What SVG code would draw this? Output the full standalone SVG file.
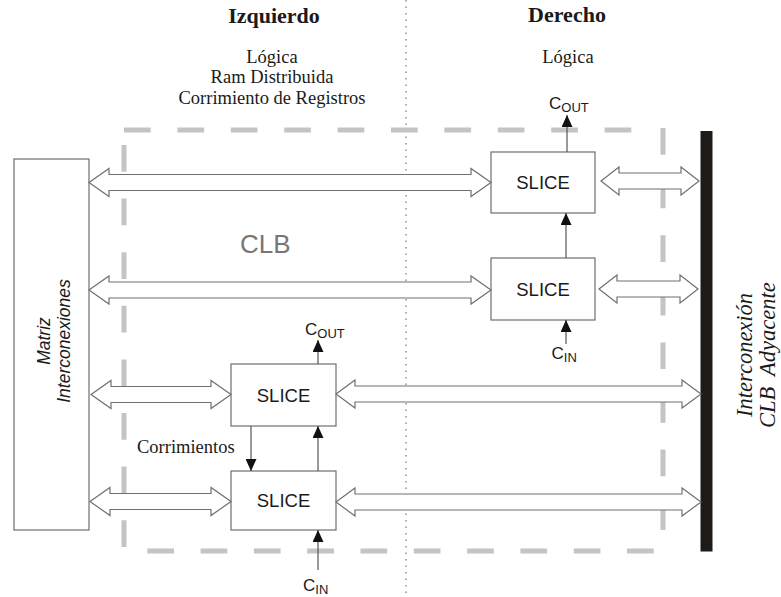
<svg xmlns="http://www.w3.org/2000/svg" width="781" height="597" viewBox="0 0 781 597">
  <style>
    .serif { font-family: "Liberation Serif", "Times New Roman", serif; fill: #1a1a1a; }
    .title { font-size: 22px; font-weight: bold; text-anchor: middle; }
    .note { font-size: 18.5px; }
    .sans { font-family: "Liberation Sans", Arial, sans-serif; fill: #1a1a1a; }
    .slice-box { fill: #ffffff; stroke: #6e6e6e; stroke-width: 1.2; }
    .slice-label { font-size: 18.5px; text-anchor: middle; }
    .bus { fill: #ffffff; stroke: #707070; stroke-width: 1.2; stroke-linejoin: miter; }
    .carry { stroke: #555555; stroke-width: 1.2; fill: none; marker-end: url(#head); }
    .clb-edge { stroke: #c4c4c4; stroke-width: 5; fill: none; stroke-dasharray: 26.7 26.9; }
    .sub { font-size: 13px; }
    .side { font-size: 22.5px; font-style: italic; }
  </style>
  <defs>
    <marker id="head" markerUnits="userSpaceOnUse" markerWidth="12" markerHeight="11" refX="12" refY="5.5" orient="auto">
      <path d="M0,0 L12,5.5 L0,11 z" fill="#111111"/>
    </marker>
  </defs>

  <!-- column divider -->
  <line x1="406" y1="0" x2="406" y2="597" stroke="#777777" stroke-width="1.2" stroke-dasharray="1.5 5"/>

  <!-- column headings -->
  <g id="headings">
    <text class="serif title" x="274" y="23">Izquierdo</text>
    <text class="serif title" x="567" y="22">Derecho</text>
    <text class="serif note" x="272" y="63" text-anchor="middle">Lógica</text>
    <text class="serif note" x="272" y="83" text-anchor="middle">Ram Distribuida</text>
    <text class="serif note" x="272" y="104" text-anchor="middle">Corrimiento de Registros</text>
    <text class="serif note" x="568" y="63" text-anchor="middle">Lógica</text>
  </g>

  <!-- CLB outline, sides dashed separately -->
  <g id="clb">
    <line class="clb-edge" x1="124" y1="130" x2="640" y2="130" style="stroke-dasharray:26.7 26.7"/>
    <line class="clb-edge" x1="124" y1="145" x2="124" y2="548"/>
    <line class="clb-edge" x1="663" y1="128" x2="663" y2="531"/>
    <line class="clb-edge" x1="147.3" y1="551" x2="658" y2="551" style="stroke-dasharray:26.7 26.6"/>
    <text x="240" y="253" font-family="Liberation Sans, Arial, sans-serif" font-size="26" fill="#777777">CLB</text>
  </g>

  <!-- switch matrix -->
  <g id="matriz">
    <rect x="14" y="159" width="75" height="371" fill="#ffffff" stroke="#6e6e6e" stroke-width="1.2"/>
    <g transform="translate(50,341) rotate(-90)">
      <text class="sans" font-size="17.5" font-style="italic" text-anchor="middle" x="0" y="0">Matriz</text>
      <text class="sans" font-size="17.5" font-style="italic" text-anchor="middle" x="0" y="20">Interconexiones</text>
    </g>
  </g>

  <!-- adjacent CLB interconnect bar -->
  <g id="adyacente">
    <rect x="700.5" y="131" width="12" height="420.5" fill="#1d1a18"/>
    <text class="serif side" transform="translate(752,417) rotate(-90)">Interconexión</text>
    <text class="serif side" transform="translate(775,428) rotate(-90)" xml:space="preserve">CLB  Adyacente</text>
  </g>

  <!-- slices -->
  <g id="slice1">
    <rect class="slice-box" x="491" y="152" width="104" height="61"/>
    <text class="sans slice-label" x="543" y="189">SLICE</text>
  </g>
  <g id="slice2">
    <rect class="slice-box" x="491" y="258" width="104" height="62"/>
    <text class="sans slice-label" x="543" y="295.5">SLICE</text>
  </g>
  <g id="slice3">
    <rect class="slice-box" x="231" y="364" width="105" height="62"/>
    <text class="sans slice-label" x="283.5" y="401.5">SLICE</text>
  </g>
  <g id="slice4">
    <rect class="slice-box" x="231" y="471" width="105" height="59"/>
    <text class="sans slice-label" x="283.5" y="507">SLICE</text>
  </g>

  <!-- carry labels -->
  <g id="carry-labels">
    <text class="sans" x="549" y="109" font-size="17">C<tspan class="sub" dy="3">OUT</tspan></text>
    <text class="sans" x="551.5" y="359" font-size="17">C<tspan class="sub" dy="3">IN</tspan></text>
    <text class="sans" x="305" y="335" font-size="17">C<tspan class="sub" dy="3">OUT</tspan></text>
    <text class="sans" x="303" y="591" font-size="17">C<tspan class="sub" dy="3">IN</tspan></text>
    <text class="serif note" x="137" y="453">Corrimientos</text>
  </g>

  <!-- connectors -->
  <g id="connectors">
    <!-- routing buses: double-headed hollow arrows -->
    <polygon class="bus" points="89,182.5 109,168.5 109,174.5 471,174.5 471,168.5 491,182.5 471,196.5 471,190.5 109,190.5 109,196.5"/>
    <polygon class="bus" points="89,290 109,276 109,282 471,282 471,276 491,290 471,304 471,298 109,298 109,304"/>
    <polygon class="bus" points="91,394.5 111,380.5 111,386.5 211,386.5 211,380.5 231,394.5 211,408.5 211,402.5 111,402.5 111,408.5"/>
    <polygon class="bus" points="90,501.5 110,487.5 110,493.5 211,493.5 211,487.5 231,501.5 211,515.5 211,509.5 110,509.5 110,515.5"/>
    <polygon class="bus" points="601,181 619,167 619,173 681,173 681,167 699,181 681,195 681,189 619,189 619,195"/>
    <polygon class="bus" points="599,289 617,275 617,281 680,281 680,275 698,289 680,303 680,297 617,297 617,303"/>
    <polygon class="bus" points="336,394 355,380 355,386 682,386 682,380 701,394 682,408 682,402 355,402 355,408"/>
    <polygon class="bus" points="336,502 355,488 355,494 682,494 682,488 701,502 682,516 682,510 355,510 355,516"/>

    <!-- carry chain and shift lines -->
    <line class="carry" x1="567" y1="152" x2="567" y2="115"/>
    <line class="carry" x1="566" y1="258" x2="566" y2="213"/>
    <line class="carry" x1="566" y1="344" x2="566" y2="320"/>
    <line class="carry" x1="318" y1="364" x2="318" y2="340"/>
    <line class="carry" x1="318" y1="471" x2="318" y2="426"/>
    <line class="carry" x1="251" y1="426" x2="251" y2="471"/>
    <line class="carry" x1="318" y1="570" x2="318" y2="530"/>
  </g>
</svg>
